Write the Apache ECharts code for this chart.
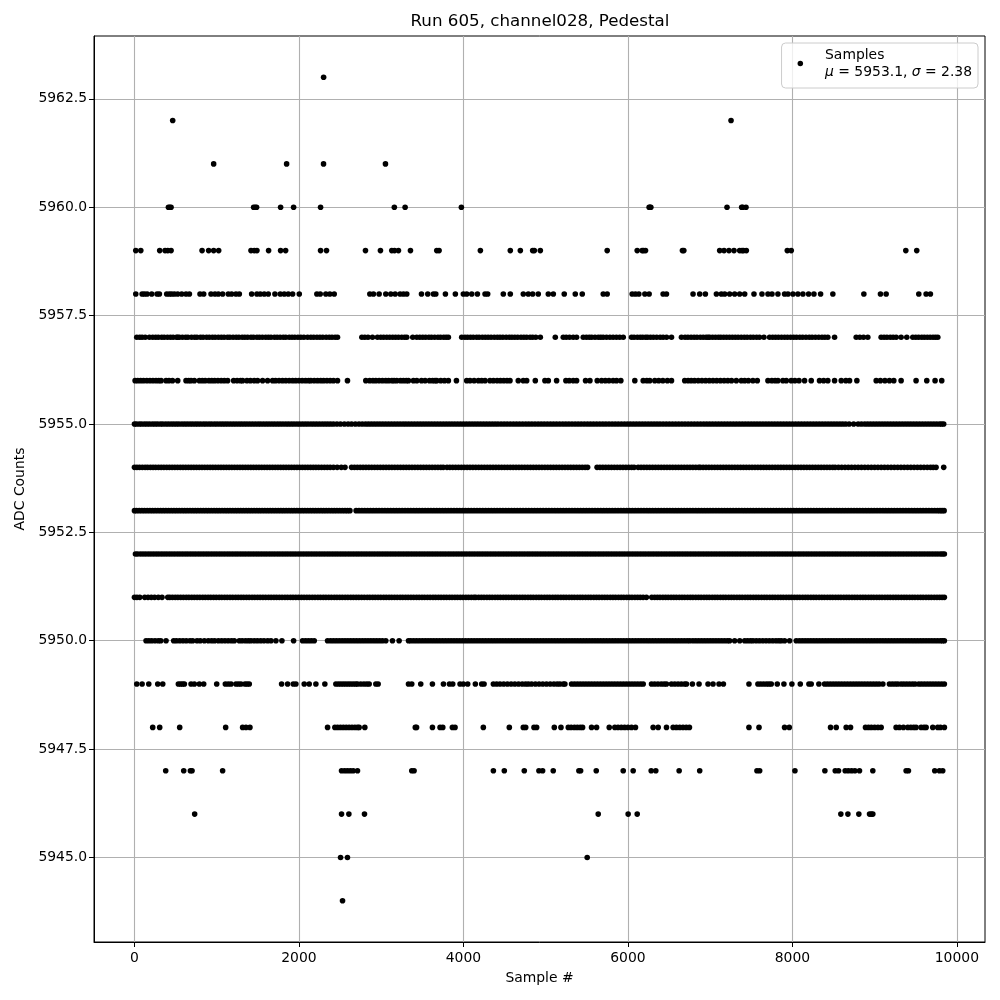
<!DOCTYPE html>
<html><head><meta charset="utf-8">
<script src="https://cdn.jsdelivr.net/npm/echarts@6/dist/echarts.min.js"></script>
<style>html,body{margin:0;padding:0;background:#fff}#c{width:1000px;height:1000px}</style>
</head><body><div id="c"></div>
<script>
const xTicks=[0,2000,4000,6000,8000,10000];
const yTicks=[5945,5947.5,5950,5952.5,5955,5957.5,5960,5962.5];
const s5963=[2300];
const s5962=[465,7254];
const s5961=[963,1850,2299,3052];
const s5960=[413,430,445,1449,1468,1485,1777,1935,2263,3160,3291,3975,6258,6268,6279,7205,7383,7397,7436];
const s5959=[16,77,307,372,405,445,822,902,963,1024,1417,1457,1489,1631,1777,1838,2263,2335,2809,2991,3129,3162,3210,3356,3676,3704,4206,4570,4692,4842,4862,4935,5748,6113,6173,6190,6214,6663,6680,7116,7169,7229,7290,7359,7387,7405,7440,7938,7986,9379,9512];
const s5958=[16,93,121,154,210,275,303,392,425,453,486,526,575,627,668,797,842,931,979,1020,1072,1141,1182,1234,1275,1425,1489,1530,1578,1627,1708,1773,1821,1870,1923,2004,2218,2259,2327,2376,2429,2862,2906,2975,3056,3117,3170,3230,3271,3311,3490,3566,3635,3664,3781,3902,3999,4040,4101,4170,4263,4295,4485,4570,4728,4789,4842,4910,5032,5093,5226,5360,5445,5700,5748,6052,6092,6133,6206,6258,6428,6469,6792,6873,6942,7076,7136,7177,7237,7298,7359,7420,7533,7630,7703,7752,7824,7905,7946,8007,8067,8128,8197,8262,8343,8492,8869,9071,9140,9537,9626,9678];
const s5957=[28,64,93,131,182,222,258,290,331,362,401,437,470,511,526,546,583,622,650,694,731,760,803,835,877,910,948,981,1020,1056,1090,1131,1160,1199,1237,1270,1310,1342,1376,1417,1448,1489,1520,1556,1595,1628,1660,1702,1735,1771,1809,1840,1882,1916,1950,1988,2023,2060,2105,2145,2180,2219,2255,2290,2331,2368,2402,2440,2469,2765,2801,2840,2894,2955,2995,3030,3068,3104,3140,3175,3210,3250,3285,3311,3384,3433,3470,3506,3541,3580,3612,3650,3690,3722,3760,3790,3817,3979,4018,4050,4086,4120,4160,4191,4230,4265,4300,4336,4375,4412,4445,4480,4520,4558,4590,4625,4660,4700,4735,4769,4810,4842,4880,4935,5117,5214,5250,5290,5335,5376,5457,5495,5530,5560,5600,5640,5670,5700,5740,5781,5820,5860,5900,5943,6044,6075,6115,6150,6180,6215,6240,6275,6310,6350,6392,6428,6470,6530,6651,6695,6730,6768,6805,6840,6880,6915,6950,6974,6995,7030,7065,7100,7130,7165,7200,7235,7270,7305,7340,7378,7415,7450,7490,7525,7565,7600,7654,7723,7760,7795,7830,7868,7905,7940,7978,8015,8050,8090,8125,8165,8205,8240,8280,8320,8360,8395,8431,8513,8776,8820,8865,8917,9079,9115,9150,9190,9225,9262,9322,9391,9464,9500,9535,9573,9605,9640,9675,9710,9740,9768];
const s5956=[8,40,75,110,150,188,225,262,296,324,384,420,462,526,627,660,688,728,789,825,860,905,940,975,1015,1055,1093,1133,1206,1248,1290,1315,1368,1410,1456,1497,1558,1619,1680,1715,1758,1800,1840,1882,1923,1960,2000,2040,2080,2118,2145,2186,2226,2265,2300,2340,2380,2420,2469,2590,2813,2860,2900,2935,2975,3015,3055,3090,3130,3157,3190,3235,3270,3305,3332,3392,3433,3490,3534,3587,3625,3655,3676,3725,3770,3817,3915,4040,4080,4130,4182,4222,4263,4323,4365,4410,4450,4490,4530,4566,4667,4728,4769,4874,4991,5032,5133,5246,5287,5335,5376,5485,5538,5627,5680,5725,5770,5820,5862,5914,6084,6186,6230,6266,6327,6375,6425,6480,6530,6691,6732,6770,6810,6855,6900,6945,6990,7035,7080,7125,7170,7215,7260,7318,7379,7420,7465,7520,7573,7703,7750,7790,7824,7885,7926,7986,8030,8080,8148,8229,8330,8380,8431,8513,8594,8650,8695,8784,9019,9070,9125,9180,9233,9322,9504,9634,9735,9816];
const s5955=[0,24,58,87,121,152,184,219,250,281,316,345,380,412,446,478,510,541,577,610,642,676,708,741,772,805,840,871,906,938,973,1005,1040,1072,1104,1136,1170,1203,1236,1270,1302,1335,1368,1402,1436,1470,1504,1536,1570,1604,1637,1671,1704,1738,1771,1805,1840,1873,1907,1940,1975,2008,2042,2076,2110,2146,2180,2214,2248,2283,2317,2351,2385,2420,2462,2505,2552,2598,2640,2686,2730,2770,2810,2845,2880,2915,2950,2985,3020,3055,3090,3125,3160,3195,3230,3266,3300,3335,3370,3405,3440,3475,3510,3545,3580,3615,3650,3685,3720,3755,3790,3825,3860,3895,3930,3965,4000,4035,4070,4105,4140,4175,4210,4245,4280,4315,4350,4385,4420,4458,4495,4532,4570,4608,4645,4682,4720,4758,4795,4832,4870,4908,4945,4982,5020,5058,5095,5132,5170,5208,5245,5282,5320,5358,5395,5432,5470,5508,5545,5582,5620,5658,5695,5732,5770,5808,5845,5882,5920,5958,5995,6030,6066,6102,6138,6174,6210,6246,6282,6318,6354,6390,6428,6466,6504,6542,6580,6618,6656,6694,6732,6770,6808,6846,6884,6922,6958,6994,7030,7066,7102,7138,7174,7210,7246,7282,7318,7354,7390,7426,7462,7498,7534,7570,7606,7642,7678,7714,7750,7786,7822,7858,7894,7930,7966,8002,8038,8074,8110,8146,8182,8218,8254,8290,8326,8362,8398,8434,8470,8506,8542,8578,8612,8648,8690,8745,8800,8840,8880,8915,8950,8985,9020,9055,9090,9125,9160,9195,9230,9265,9300,9335,9370,9405,9440,9475,9510,9545,9580,9615,9650,9685,9720,9755,9790,9815,9840];
const s5954=[0,30,62,96,130,160,194,226,258,292,325,358,392,425,458,491,524,557,590,623,656,689,722,755,788,821,854,887,920,953,986,1019,1052,1085,1118,1151,1184,1217,1250,1283,1316,1349,1382,1415,1448,1481,1514,1547,1580,1613,1646,1679,1712,1745,1778,1811,1844,1877,1910,1943,1976,2009,2042,2075,2108,2141,2174,2207,2240,2275,2310,2345,2380,2420,2465,2515,2560,2640,2675,2710,2745,2780,2815,2850,2885,2920,2955,2990,3025,3060,3095,3130,3165,3200,3235,3270,3305,3340,3375,3410,3445,3480,3515,3550,3585,3620,3655,3690,3725,3755,3800,3835,3870,3905,3940,3975,4010,4045,4080,4115,4150,4185,4220,4255,4290,4325,4360,4395,4430,4465,4500,4535,4570,4605,4640,4675,4710,4745,4780,4815,4850,4885,4920,4955,4990,5025,5060,5095,5130,5165,5200,5235,5270,5305,5340,5375,5410,5445,5480,5510,5625,5660,5695,5730,5765,5800,5835,5870,5905,5940,5975,6010,6045,6075,6125,6160,6195,6230,6265,6300,6335,6370,6405,6440,6475,6510,6545,6580,6615,6650,6685,6720,6755,6790,6825,6860,6880,6915,6950,6985,7020,7055,7090,7125,7160,7195,7230,7265,7300,7335,7370,7405,7440,7475,7510,7545,7580,7615,7650,7685,7720,7755,7790,7825,7860,7895,7930,7965,8000,8035,8070,8105,8140,8175,8210,8245,8280,8315,8350,8385,8420,8455,8490,8520,8560,8600,8640,8680,8720,8760,8800,8840,8880,8920,8960,9000,9040,9080,9120,9160,9200,9240,9280,9320,9360,9400,9440,9480,9520,9560,9600,9640,9680,9712,9747,9840];
const s5953=[0,26,58,90,122,155,188,220,252,285,318,350,382,415,448,480,512,545,578,610,642,675,708,740,772,805,838,870,902,935,968,1000,1032,1065,1098,1130,1162,1195,1228,1260,1292,1325,1358,1390,1422,1455,1488,1520,1552,1585,1618,1650,1682,1715,1748,1780,1812,1845,1878,1910,1942,1975,2008,2040,2072,2105,2138,2170,2202,2235,2268,2300,2332,2365,2398,2430,2462,2495,2528,2560,2590,2620,2695,2730,2765,2800,2835,2870,2905,2940,2975,3010,3045,3080,3115,3150,3185,3220,3255,3290,3325,3360,3395,3430,3465,3500,3535,3570,3605,3640,3675,3710,3745,3780,3815,3850,3885,3920,3955,3990,4025,4060,4095,4130,4165,4200,4235,4270,4305,4340,4375,4410,4445,4480,4515,4550,4585,4620,4655,4690,4725,4760,4795,4830,4865,4900,4935,4970,5005,5040,5075,5110,5145,5180,5215,5250,5285,5320,5355,5390,5425,5460,5495,5530,5565,5600,5635,5670,5705,5740,5775,5810,5845,5880,5915,5950,5985,6020,6055,6090,6125,6160,6195,6230,6265,6300,6335,6370,6405,6440,6475,6510,6545,6580,6615,6650,6685,6720,6755,6790,6825,6860,6895,6930,6965,7000,7035,7070,7105,7140,7175,7210,7245,7280,7315,7350,7385,7420,7455,7490,7525,7560,7595,7630,7665,7700,7735,7770,7805,7840,7875,7910,7945,7980,8015,8050,8085,8120,8155,8190,8225,8260,8295,8330,8365,8400,8435,8470,8505,8540,8575,8610,8645,8680,8715,8750,8785,8820,8855,8890,8925,8960,8995,9030,9065,9100,9135,9170,9205,9240,9275,9310,9345,9380,9415,9450,9485,9520,9555,9590,9625,9660,9695,9730,9765,9795,9820,9845];
const s5952=[12,38,72,104,136,168,200,232,264,296,328,360,392,424,456,488,520,552,584,616,648,680,712,744,776,808,840,872,904,936,968,1000,1032,1064,1096,1128,1160,1192,1224,1256,1288,1320,1352,1384,1416,1448,1480,1512,1544,1576,1608,1640,1672,1704,1736,1768,1800,1832,1864,1896,1928,1960,1992,2024,2056,2088,2120,2152,2184,2216,2248,2280,2312,2344,2376,2408,2440,2472,2504,2536,2568,2600,2632,2664,2696,2728,2760,2792,2824,2856,2888,2920,2952,2984,3016,3048,3080,3112,3144,3176,3208,3240,3272,3304,3336,3368,3400,3432,3464,3496,3528,3560,3592,3624,3656,3688,3720,3752,3784,3816,3848,3880,3912,3944,3976,4008,4040,4072,4104,4136,4168,4200,4232,4264,4296,4328,4360,4392,4424,4456,4488,4520,4552,4584,4616,4648,4680,4712,4744,4776,4808,4840,4872,4904,4936,4968,5000,5032,5064,5096,5128,5160,5192,5224,5256,5288,5320,5352,5384,5416,5448,5480,5512,5544,5576,5608,5640,5672,5704,5736,5768,5800,5832,5864,5896,5928,5960,5992,6024,6056,6088,6120,6152,6184,6216,6248,6280,6312,6344,6376,6408,6440,6472,6504,6536,6568,6600,6632,6664,6696,6728,6760,6792,6824,6856,6888,6920,6952,6984,7016,7048,7080,7112,7144,7176,7208,7240,7272,7304,7336,7368,7400,7432,7464,7496,7528,7560,7592,7624,7656,7688,7720,7752,7784,7816,7848,7880,7912,7944,7976,8008,8040,8072,8104,8136,8168,8200,8232,8264,8296,8328,8360,8392,8424,8456,8488,8520,8552,8584,8616,8648,8680,8712,8744,8776,8808,8840,8872,8904,8936,8968,9000,9032,9064,9096,9128,9160,9192,9224,9256,9288,9320,9352,9384,9416,9448,9480,9512,9544,9576,9608,9640,9672,9704,9736,9768,9800,9825,9848];
const s5951=[0,30,65,125,165,205,245,290,335,405,430,462,496,528,562,595,630,662,696,728,762,795,830,862,896,928,962,995,1030,1062,1096,1128,1162,1195,1230,1262,1296,1328,1362,1395,1430,1462,1496,1528,1562,1595,1630,1662,1696,1728,1762,1795,1830,1862,1896,1928,1962,1995,2030,2062,2096,2128,2162,2195,2230,2262,2296,2328,2362,2395,2430,2462,2496,2528,2562,2595,2630,2662,2696,2728,2762,2795,2830,2862,2896,2928,2962,2995,3030,3062,3096,3128,3162,3195,3230,3262,3296,3328,3362,3395,3430,3462,3496,3528,3562,3595,3630,3662,3696,3728,3762,3795,3830,3862,3896,3928,3962,3995,4030,4062,4096,4128,4150,4185,4218,4250,4285,4318,4350,4385,4418,4450,4485,4518,4550,4585,4618,4650,4685,4718,4750,4785,4818,4850,4885,4918,4950,4985,5018,5050,5085,5118,5150,5185,5218,5250,5285,5318,5350,5385,5418,5450,5485,5518,5550,5585,5618,5650,5685,5718,5750,5785,5818,5850,5885,5918,5950,5985,6018,6050,6085,6118,6150,6185,6225,6290,6325,6358,6390,6425,6458,6490,6525,6558,6590,6625,6658,6690,6725,6758,6790,6825,6858,6890,6925,6958,6990,7025,7058,7090,7125,7158,7190,7225,7258,7290,7325,7358,7390,7425,7458,7490,7525,7558,7590,7625,7658,7690,7725,7758,7790,7825,7858,7890,7925,7958,7990,8025,8058,8090,8125,8158,8190,8225,8258,8290,8325,8358,8390,8425,8458,8490,8525,8558,8590,8625,8658,8690,8725,8758,8790,8825,8858,8890,8925,8958,8990,9025,9058,9090,9125,9158,9190,9225,9258,9290,9325,9358,9390,9425,9458,9490,9525,9558,9590,9625,9658,9690,9725,9758,9790,9820,9848];
const s5950=[141,175,210,250,290,320,384,477,510,550,590,630,675,708,761,800,850,898,939,975,1020,1060,1100,1140,1180,1214,1275,1310,1350,1385,1417,1457,1495,1535,1575,1620,1660,1720,1793,1935,2044,2080,2115,2150,2186,2348,2385,2420,2455,2490,2525,2560,2595,2630,2665,2700,2735,2770,2805,2840,2875,2910,2945,2980,3015,3056,3137,3218,3332,3360,3395,3430,3465,3500,3535,3570,3605,3640,3675,3710,3745,3780,3815,3850,3885,3920,3955,3990,4025,4060,4095,4130,4165,4200,4235,4270,4305,4340,4375,4410,4445,4480,4515,4550,4585,4620,4655,4690,4725,4760,4795,4830,4865,4900,4935,4970,5005,5040,5075,5110,5145,5180,5215,5250,5285,5320,5355,5390,5425,5460,5495,5530,5565,5600,5635,5670,5705,5740,5775,5810,5845,5880,5915,5950,5985,6020,6055,6090,6125,6160,6195,6230,6265,6300,6335,6370,6405,6440,6475,6510,6545,6580,6615,6650,6685,6720,6752,6790,6825,6860,6895,6930,6965,7000,7035,7070,7105,7140,7175,7210,7237,7298,7360,7420,7455,7490,7521,7561,7600,7640,7680,7720,7760,7800,7835,7865,7905,7966,8047,8085,8120,8155,8190,8225,8260,8295,8330,8365,8400,8435,8470,8505,8540,8575,8610,8645,8680,8715,8750,8785,8820,8855,8890,8925,8960,8995,9030,9065,9100,9135,9170,9205,9240,9275,9310,9345,9380,9415,9450,9485,9520,9555,9590,9625,9660,9695,9730,9765,9800,9825,9848];
const s5949=[28,93,174,283,344,534,560,585,607,688,728,789,842,1000,1105,1140,1174,1234,1265,1295,1344,1370,1396,1789,1862,1931,1963,2064,2125,2206,2315,2449,2480,2510,2540,2570,2600,2630,2660,2690,2712,2752,2790,2825,2854,2935,2963,3332,3372,3481,3623,3757,3830,3870,3959,3999,4052,4145,4222,4251,4364,4404,4445,4490,4535,4580,4625,4670,4715,4755,4789,4829,4875,4920,4965,5010,5055,5100,5140,5173,5214,5234,5315,5350,5385,5420,5455,5490,5525,5560,5595,5630,5665,5700,5735,5770,5805,5840,5875,5910,5945,5980,6015,6050,6085,6120,6155,6186,6287,6325,6365,6405,6440,6469,6530,6570,6610,6650,6690,6712,6784,6865,6974,7035,7108,7161,7472,7581,7615,7650,7685,7715,7743,7816,7897,7994,8096,8201,8229,8322,8391,8425,8460,8495,8530,8565,8600,8635,8670,8705,8740,8775,8810,8845,8880,8915,8950,8985,9020,9055,9100,9180,9215,9250,9282,9322,9355,9390,9425,9460,9492,9537,9570,9605,9640,9675,9710,9745,9780,9815,9848];
const s5948=[222,307,550,1109,1315,1356,1404,2348,2437,2470,2505,2540,2575,2610,2645,2680,2712,2732,2801,3415,3430,3623,3716,3749,3866,3898,4242,4558,4728,4757,4858,4890,5105,5186,5275,5310,5350,5385,5420,5449,5558,5619,5773,5841,5880,5920,5960,6000,6044,6092,6307,6368,6469,6550,6590,6630,6670,6710,6748,7472,7594,7905,7962,8464,8533,8654,8707,8889,8925,8960,9000,9040,9079,9261,9302,9350,9403,9440,9475,9504,9565,9600,9626,9707,9767,9800,9848];
const s5947=[380,599,680,700,1072,2518,2555,2590,2625,2660,2712,3372,3400,4364,4497,4740,4918,4963,5092,5404,5425,5615,5943,6064,6283,6339,6623,6873,7569,7602,8031,8395,8521,8561,8642,8680,8720,8760,8816,8978,9383,9411,9731,9788,9828];
const s5946=[732,2518,2607,2797,5639,6003,6113,8589,8675,8808,8938,8960,8978];
const s5945=[2506,2590,5505];
const s5944=[2530];

const levels=[5963,5962,5961,5960,5959,5958,5957,5956,5955,5954,5953,5952,5951,5950,5949,5948,5947,5946,5945,5944];
const rows=[s5963,s5962,s5961,s5960,s5959,s5958,s5957,s5956,s5955,s5954,s5953,s5952,s5951,s5950,s5949,s5948,s5947,s5946,s5945,s5944];
const points=[];
rows.forEach((r,i)=>r.forEach(x=>points.push([x,levels[i]])));

const font='"DejaVu Sans"';
const chart=echarts.init(document.getElementById('c'),null,{renderer:'canvas'});
chart.setOption({
  animation:false,
  backgroundColor:'#fff',
  textStyle:{fontFamily:font},
  title:{text:'Run 605, channel028, Pedestal',left:535,top:8,textAlign:'center',
    textStyle:{fontFamily:font,fontSize:16.7,fontWeight:'normal',color:'#000'}},
  grid:{left:94,right:15,top:36,bottom:58,show:true,borderColor:'#000',borderWidth:1,backgroundColor:'transparent'},
  xAxis:{type:'value',min:-492,max:10342,name:'Sample #',nameLocation:'middle',nameGap:29,
    nameTextStyle:{fontFamily:font,fontSize:13.9,color:'#000'},
    axisLine:{show:true,onZero:false,lineStyle:{color:'#000',width:1}},
    axisTick:{show:true,length:5,customValues:xTicks,lineStyle:{color:'#000'}},
    axisLabel:{color:'#000',fontFamily:font,fontSize:13.9,margin:9,customValues:xTicks,
      formatter:v=>String(Math.round(v))},
    splitLine:{show:true,customValues:xTicks,lineStyle:{color:'#b0b0b0',width:1.1}}},
  yAxis:{type:'value',min:5943.05,max:5963.95,name:'ADC Counts',nameLocation:'middle',nameGap:65,
    nameTextStyle:{fontFamily:font,fontSize:13.9,color:'#000'},
    axisLine:{show:true,onZero:false,lineStyle:{color:'#000',width:1}},
    axisTick:{show:true,length:5,customValues:yTicks,lineStyle:{color:'#000'}},
    axisLabel:{color:'#000',fontFamily:font,fontSize:13.9,margin:7,customValues:yTicks,
      formatter:v=>v.toFixed(1)},
    splitLine:{show:true,customValues:yTicks,lineStyle:{color:'#b0b0b0',width:1.1}}},
  legend:{show:true,right:22,top:43,orient:'vertical',padding:[5,6,9,16],
    itemWidth:5.5,itemHeight:5.5,icon:'circle',
    backgroundColor:'rgba(255,255,255,0.8)',borderColor:'#ccc',borderWidth:1,borderRadius:4,
    data:['S'],
    formatter:()=>'{t|Samples}\n{i|μ}{t| = 5953.1, }{i|σ}{t| = 2.38}',
    textStyle:{rich:{
      t:{fontFamily:font,fontSize:13.9,color:'#000',lineHeight:17},
      i:{fontFamily:font,fontStyle:'italic',fontSize:13.9,color:'#000',lineHeight:17}},
      padding:[0,0,0,17]}},
  series:[{name:'S',type:'scatter',data:points,symbol:'circle',symbolSize:5.6,large:false,
    itemStyle:{color:'#000',opacity:1},silent:true}]
});
</script></body></html>
